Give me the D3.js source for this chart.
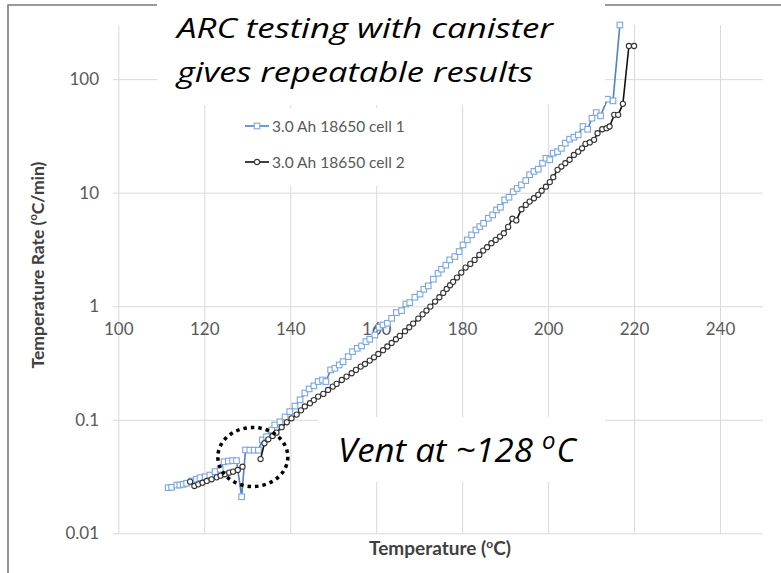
<!DOCTYPE html>
<html>
<head>
<meta charset="utf-8">
<script src="https://cdn.jsdelivr.net/npm/d3@7"></script>
<style>
body { margin: 0; background: #fff; }
svg { display: block; }
</style>
</head>
<body>
<script>
// ARC data: temperature (C) and self-heating rate (C/min)
var cell1Temp = [111.6, 112.4, 113.6, 114.3, 115.1, 115.9, 117.1, 118.2, 119.0, 120.2,
                 121.3, 122.5, 123.7, 124.6, 125.6, 126.6, 127.5, 128.7, 129.6, 130.6,
                 131.6, 132.6, 133.5, 134.5, 135.7, 136.4, 137.6, 138.8, 139.9, 141.1,
                 142.3, 143.4, 144.4, 145.5, 146.5, 147.5, 148.3, 149.4, 150.4, 151.4,
                 152.3, 153.5, 154.5, 155.6, 156.6, 157.6, 158.5, 159.7, 160.7, 161.6,
                 162.6, 163.6, 164.7, 165.9, 166.9, 167.8, 169.0, 170.2, 171.1, 172.1,
                 173.3, 174.4, 175.2, 176.2, 177.1, 178.3, 179.3, 180.2, 181.2, 182.2,
                 183.2, 184.1, 185.0, 186.1, 187.1, 188.0, 188.9, 189.9, 190.9, 191.9,
                 192.8, 193.8, 194.8, 195.7, 196.7, 197.7, 198.7, 199.5, 200.4, 201.2,
                 202.2, 203.1, 204.0, 205.0, 206.0, 207.0, 208.1, 209.2, 210.2, 211.2,
                 212.2, 213.8, 215.1, 216.7]
var cell1Rate = [0.0252, 0.0254, 0.0266, 0.0266, 0.0270, 0.0276, 0.0289, 0.0299, 0.0309, 0.0315,
                 0.0326, 0.0349, 0.0366, 0.0427, 0.0433, 0.0436, 0.0436, 0.0210, 0.0542, 0.0540,
                 0.0540, 0.0540, 0.0664, 0.0710, 0.0813, 0.0900, 0.0960, 0.106, 0.118, 0.132,
                 0.150, 0.172, 0.187, 0.199, 0.217, 0.224, 0.217, 0.275, 0.284, 0.304,
                 0.325, 0.360, 0.398, 0.426, 0.447, 0.488, 0.512, 0.558, 0.653, 0.684,
                 0.708, 0.783, 0.879, 0.915, 1.047, 1.076, 1.20, 1.28, 1.41, 1.51,
                 1.73, 1.95, 2.12, 2.30, 2.56, 2.74, 3.03, 3.47, 3.84, 4.25,
                 4.70, 5.03, 5.38, 5.96, 6.37, 7.05, 7.44, 8.64, 9.12, 10.2,
                 10.9, 11.7, 12.8, 14.4, 15.4, 16.1, 18.2, 20.1, 19.5, 22.3,
                 23.0, 24.6, 27.3, 29.6, 30.8, 32.3, 38.3, 36.2, 45.3, 50.8,
                 47.5, 66.6, 64.4, 300]

// cell 2 has no reading between 129 and 133 C (null breaks the line)
var cell2Temp = [116.7, 117.7, 118.6, 119.6, 120.6, 121.7, 122.9, 123.8, 124.8, 125.8,
                 126.7, 127.8, 128.9, 131.0, 133.1, 134.0, 134.9, 135.9, 136.8, 138.0,
                 139.2, 140.3, 141.5, 142.5, 143.4, 144.6, 145.5, 146.5, 147.7, 148.8,
                 149.9, 150.8, 152.0, 153.1, 154.3, 155.3, 156.4, 157.4, 158.5, 159.5,
                 160.5, 161.6, 162.6, 163.6, 164.6, 165.5, 166.7, 167.7, 168.6, 169.8,
                 170.8, 171.7, 172.6, 173.7, 174.7, 175.6, 176.4, 177.2, 177.9, 178.8,
                 179.8, 180.8, 181.9, 182.9, 184.0, 184.9, 185.8, 186.8, 187.8, 188.8,
                 189.7, 190.7, 191.7, 192.6, 193.8, 194.8, 195.7, 196.7, 197.7, 198.5,
                 199.5, 200.4, 201.2, 202.2, 203.1, 204.0, 205.0, 206.0, 207.0, 207.9,
                 208.7, 209.7, 210.7, 211.5, 212.6, 213.6, 214.3, 215.4, 216.3, 217.4,
                 218.8, 220.0]
var cell2Rate = [0.0285, 0.0261, 0.0270, 0.0279, 0.0289, 0.0299, 0.0311, 0.0322, 0.0331, 0.0342,
                 0.0349, 0.0361, 0.0386, null, 0.0451, 0.0621, 0.0673, 0.0720, 0.0770, 0.0860,
                 0.0950, 0.103, 0.111, 0.121, 0.131, 0.140, 0.149, 0.160, 0.169, 0.183,
                 0.196, 0.207, 0.224, 0.240, 0.257, 0.275, 0.294, 0.310, 0.332, 0.355,
                 0.380, 0.410, 0.442, 0.475, 0.512, 0.548, 0.603, 0.653, 0.703, 0.778,
                 0.848, 0.916, 0.993, 1.10, 1.20, 1.31, 1.42, 1.53, 1.64, 1.79,
                 1.98, 2.19, 2.36, 2.56, 2.83, 3.09, 3.31, 3.59, 3.84, 4.11,
                 4.40, 5.00, 5.90, 5.70, 7.15, 7.81, 8.35, 8.94, 9.57, 10.4,
                 11.3, 12.4, 13.7, 15.9, 17.0, 18.2, 19.5, 21.5, 23.0, 24.6,
                 26.9, 27.7, 29.2, 33.4, 36.2, 37.0, 38.3, 48.5, 48.5, 60.6,
                 196, 196]

var seriesNames = ["3.0 Ah 18650 cell 1", "3.0 Ah 18650 cell 2"]
var xTicks = [100, 120, 140, 160, 180, 200, 220, 240]
var yTicks = [0.01, 0.1, 1, 10, 100]
var titleLines = ["ARC testing with canister", "gives repeatable results"]
var ventNote = {temp: 131.3, rate: 0.047}

var w = 781
var h = 573
var plotLeft = 118.3, plotRight = 763, plotTop = 25, plotBottom = 533.3

var x = d3.scaleLinear().domain([100, 250]).range([plotLeft, plotRight])
var y = d3.scaleLog().domain([0.01, 300]).range([plotBottom, plotTop])

var svg = d3.select("body")
            .append("svg")
            .attr("width", w)
            .attr("height", h)

svg.append("rect").attr("width", w).attr("height", h).attr("fill", "white")

// slide frame
svg.append("path")
    .attr("d", "M8," + h + "V5H" + w)
    .attr("fill", "none")
    .attr("stroke", "#7a7a7a")
    .attr("stroke-width", 1.6)

// vertical gridlines
var xGrid = svg.append("g")
    .attr("transform", "translate(0," + plotBottom + ")")
    .call(d3.axisBottom(x).tickValues(xTicks).tickSize(-(plotBottom - plotTop)).tickFormat(""))
xGrid.select(".domain").remove()
xGrid.selectAll("line").attr("stroke", "#d9d9d9")

// horizontal gridlines + labels
var yAxis = svg.append("g")
    .attr("transform", "translate(113,0)")
    .call(d3.axisLeft(y).tickValues(yTicks).tickSize(-(plotRight - 113)).tickPadding(14)
            .tickFormat(d => String(d)))
yAxis.select(".domain").remove()
yAxis.selectAll("line").attr("stroke", "#d9d9d9")
yAxis.selectAll("text")
    .attr("fill", "#595959")
    .style("font-family", "Lato, sans-serif")
    .style("font-size", "17px")

// x labels sit under the rate = 1 gridline
var xAxis = svg.append("g")
    .attr("transform", "translate(0," + y(1) + ")")
    .call(d3.axisBottom(x).tickValues(xTicks).tickSize(0).tickPadding(17))
xAxis.select(".domain").remove()
xAxis.selectAll("text")
    .attr("fill", "#595959")
    .style("font-family", "Lato, sans-serif")
    .style("font-size", "17px")

// axis titles
var xt = svg.append("text")
    .attr("x", 440)
    .attr("y", 555)
    .attr("text-anchor", "middle")
    .attr("fill", "#404040")
    .style("font-family", "Lato, sans-serif")
    .style("font-weight", "bold")
    .style("font-size", "19px")
xt.append("tspan").text("Temperature (")
xt.append("tspan").attr("dy", -7).style("font-size", "12px").text("o")
xt.append("tspan").attr("dy", 7).text("C)")

var yt = svg.append("text")
    .attr("transform", "translate(44,265) rotate(-90)")
    .attr("text-anchor", "middle")
    .attr("fill", "#404040")
    .style("font-family", "Lato, sans-serif")
    .style("font-weight", "bold")
    .style("font-size", "17.5px")
yt.append("tspan").text("Temperature Rate (")
yt.append("tspan").attr("dy", -7).style("font-size", "11px").text("o")
yt.append("tspan").attr("dy", 7).text("C/min)")

// series
var cell1 = d3.zip(cell1Temp, cell1Rate)
var cell2 = d3.zip(cell2Temp, cell2Rate)

var line = d3.line()
    .defined(d => d[1] != null)
    .x(d => x(d[0]))
    .y(d => y(d[1]))

svg.append("path")
    .datum(cell1)
    .attr("d", line)
    .attr("fill", "none")
    .attr("stroke", "#4f81c7")
    .attr("stroke-width", 1.6)

svg.selectAll(".m1")
    .data(cell1)
    .enter()
    .append("rect")
    .attr("class", "m1")
    .attr("x", d => x(d[0]) - 2.8)
    .attr("y", d => y(d[1]) - 2.8)
    .attr("width", 5.6)
    .attr("height", 5.6)
    .attr("fill", "white")
    .attr("stroke", "#7aa5dc")
    .attr("stroke-width", 1.1)

svg.append("path")
    .datum(cell2)
    .attr("d", line)
    .attr("fill", "none")
    .attr("stroke", "#111")
    .attr("stroke-width", 1.6)

svg.selectAll(".m2")
    .data(cell2.filter(d => d[1] != null))
    .enter()
    .append("circle")
    .attr("class", "m2")
    .attr("cx", d => x(d[0]))
    .attr("cy", d => y(d[1]))
    .attr("r", 2.6)
    .attr("fill", "white")
    .attr("stroke", "#333")
    .attr("stroke-width", 1.1)

// legend
svg.append("rect")
    .attr("x", 215).attr("y", 108)
    .attr("width", 235).attr("height", 78)
    .attr("fill", "white")

var legendColors = [["#4f81c7", "#7aa5dc"], ["#111", "#333"]]
seriesNames.forEach(function(name, i) {
    var ly = 126 + i * 36
    svg.append("line")
        .attr("x1", 245).attr("x2", 269)
        .attr("y1", ly).attr("y2", ly)
        .attr("stroke", legendColors[i][0])
        .attr("stroke-width", 1.6)
    if (i === 0) {
        svg.append("rect")
            .attr("x", 254.2).attr("y", ly - 2.8)
            .attr("width", 5.6).attr("height", 5.6)
            .attr("fill", "white")
            .attr("stroke", legendColors[i][1])
            .attr("stroke-width", 1.1)
    } else {
        svg.append("circle")
            .attr("cx", 257).attr("cy", ly).attr("r", 2.6)
            .attr("fill", "white")
            .attr("stroke", legendColors[i][1])
            .attr("stroke-width", 1.1)
    }
    svg.append("text")
        .attr("x", 272)
        .attr("y", ly + 5.5)
        .attr("fill", "#595959")
        .style("font-family", "Lato, sans-serif")
        .style("font-size", "15.5px")
        .text(name)
})

// title box
svg.append("rect")
    .attr("x", 157).attr("y", 0)
    .attr("width", 448).attr("height", 105)
    .attr("fill", "white")

var titleLen = [376, 356]
titleLines.forEach(function(t, i) {
    svg.append("text")
        .attr("x", 177)
        .attr("y", 38 + i * 44)
        .attr("textLength", titleLen[i])
        .attr("lengthAdjust", "spacingAndGlyphs")
        .style("font-family", "'Open Sans', sans-serif")
        .style("font-style", "italic")
        .style("font-size", "28px")
        .attr("fill", "black")
        .text(t)
})

// vent annotation
svg.append("rect")
    .attr("x", 318).attr("y", 417)
    .attr("width", 287).attr("height", 65)
    .attr("fill", "white")

var vt = svg.append("text")
    .attr("x", 338)
    .attr("y", 462)
    .attr("fill", "black")
    .style("font-family", "'Open Sans', sans-serif")
    .style("font-style", "italic")
    .style("font-size", "33px")
vt.append("tspan")
    .attr("textLength", 204)
    .attr("lengthAdjust", "spacingAndGlyphs")
    .text("Vent at ~128 ")
vt.append("tspan").attr("dy", -13).style("font-size", "24px").text("o")
vt.append("tspan").attr("dy", 13).attr("dx", 1).text("C")

svg.append("ellipse")
    .attr("cx", x(ventNote.temp))
    .attr("cy", y(ventNote.rate))
    .attr("rx", 35)
    .attr("ry", 29.5)
    .attr("fill", "none")
    .attr("stroke", "black")
    .attr("stroke-width", 3.5)
    .attr("stroke-dasharray", "3.5 4")
</script>
</body>
</html>
